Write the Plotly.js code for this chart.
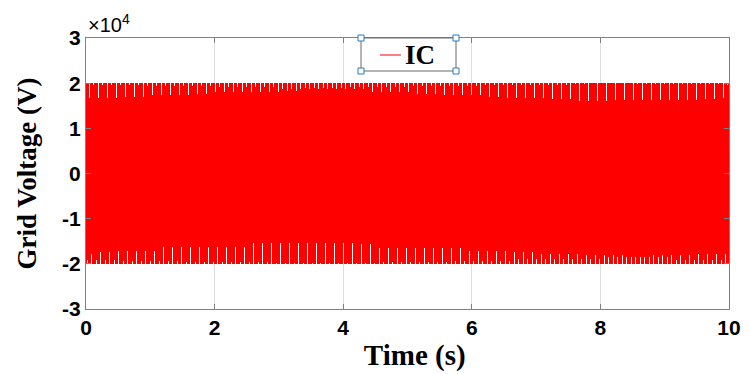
<!DOCTYPE html>
<html>
<head>
<meta charset="utf-8">
<script src="https://cdn.plot.ly/plotly-3.0.1.min.js"></script>
<style>
html,body{margin:0;padding:0;background:#fff;}
#chart{width:749px;height:374px;}
#chart .scatterlayer path.js-line{shape-rendering:crispEdges;}
</style>
</head>
<body>
<div id="chart"></div>
<script>
// ---- data ----
const seriesName = "IC";
const timeStart = 0;          // s
const timeEnd = 10;           // s
const gridFrequencyHz = 50;   // cycles per second of the grid voltage
// one cycle of the grid voltage, sampled 20 times (V), peak ±2×10^4
const cycleValues = [0, 6180, 11756, 16180, 19021, 20000, 19021, 16180, 11756, 6180,
                     0, -6180, -11756, -16180, -19021, -20000, -19021, -16180, -11756, -6180];
const yTickVals = [30000, 20000, 10000, 0, -10000, -20000, -30000];
const yTickText = ["3", "2", "1", "0", "-1", "-2", "-3"];
const xTickVals = [0, 2, 4, 6, 8, 10];
const xTickText = ["0", "2", "4", "6", "8", "10"];

// ---- build the trace from the cycle table ----
const nCycles = Math.round((timeEnd - timeStart) * gridFrequencyHz);
const dt = 1 / (gridFrequencyHz * cycleValues.length);
const t = [], v = [];
for (let c = 0; c < nCycles; c++) {
  for (let k = 0; k < cycleValues.length; k++) {
    t.push(timeStart + (c * cycleValues.length + k) * dt);
    v.push(cycleValues[k]);
  }
}
t.push(timeEnd); v.push(cycleValues[0]);

const trace = {
  x: t, y: v, type: 'scatter', mode: 'lines', name: seriesName,
  line: {color: '#ff0000', width: 1, simplify: false}, showlegend: false
};

const tickFont = {family: 'Liberation Sans, Arial, sans-serif', size: 21, color: '#000', weight: 'bold'};
const xTitleFont = {family: 'Liberation Serif, Times New Roman, serif', size: 29, color: '#000', weight: 'bold'};
const yTitleFont = {family: 'Liberation Serif, Times New Roman, serif', size: 27, color: '#000', weight: 'bold'};

const L = 86, R = 729, T = 38, B = 309;
const W = R - L, H = B - T;
function px(x) { return (x - L) / W; }
function py(y) { return 1 - (y - T) / H; }

// legend box (pixel layout)
const lgL = 361, lgR = 456, lgT = 38, lgB = 71;
const handles = [[lgL, lgT], [lgR, lgT], [lgL, lgB], [lgR, lgB]].map(function (p) {
  return {type: 'rect', xref: 'paper', yref: 'paper', layer: 'above',
    xsizemode: 'pixel', ysizemode: 'pixel', xanchor: px(p[0]), yanchor: py(p[1]),
    x0: -3, x1: 3, y0: -3, y1: 3,
    line: {color: '#2a7bbf', width: 1}, fillcolor: '#ffffff'};
});

const shapes = [
  {type: 'rect', xref: 'paper', yref: 'paper', layer: 'above',
   x0: px(lgL), x1: px(lgR), y0: py(lgB), y1: py(lgT),
   line: {color: '#6b6b6b', width: 1}, fillcolor: '#ffffff'},
  {type: 'line', xref: 'paper', yref: 'paper', layer: 'above',
   x0: px(380), x1: px(401), y0: py(55), y1: py(55),
   line: {color: '#ff0000', width: 1}}
].concat(handles);

const layout = {
  width: 749, height: 374,
  margin: {l: L, r: 749 - R, t: T, b: 374 - B},
  paper_bgcolor: '#fff', plot_bgcolor: '#fff',
  showlegend: false,
  xaxis: {
    range: [0, 10], tickvals: xTickVals, ticktext: xTickText,
    showgrid: true, gridcolor: '#dcdcdc', gridwidth: 1,
    showline: true, linecolor: '#808080', linewidth: 1, mirror: 'ticks',
    ticks: 'inside', ticklen: 5, tickcolor: '#808080',
    tickfont: tickFont, zeroline: false,
    title: {text: '&nbsp;&nbsp;Time (s)', font: xTitleFont, standoff: 6}
  },
  yaxis: {
    range: [-30000, 30000], tickvals: yTickVals, ticktext: yTickText,
    showgrid: false,
    showline: true, linecolor: '#808080', linewidth: 1, mirror: 'ticks',
    ticks: 'inside', ticklen: 5, tickcolor: '#808080',
    tickfont: tickFont, zeroline: false,
    title: {text: 'Grid Voltage (V)', font: yTitleFont, standoff: 17}
  },
  shapes: shapes,
  annotations: [{
    xref: 'paper', yref: 'paper', x: px(86), y: 1, xanchor: 'left', yanchor: 'bottom',
    text: '×10<sup>4</sup>', showarrow: false, yshift: 0,
    font: {family: 'Liberation Sans, Arial, sans-serif', size: 20, color: '#000'}
  }, {
    xref: 'paper', yref: 'paper', x: px(403), y: py(55), xanchor: 'left', yanchor: 'middle',
    text: seriesName, showarrow: false,
    font: {family: 'Liberation Serif, Times New Roman, serif', size: 27, color: '#000', weight: 'bold'}
  }]
};

Plotly.newPlot('chart', [trace], layout, {displayModeBar: false, staticPlot: true});
</script>
</body>
</html>
